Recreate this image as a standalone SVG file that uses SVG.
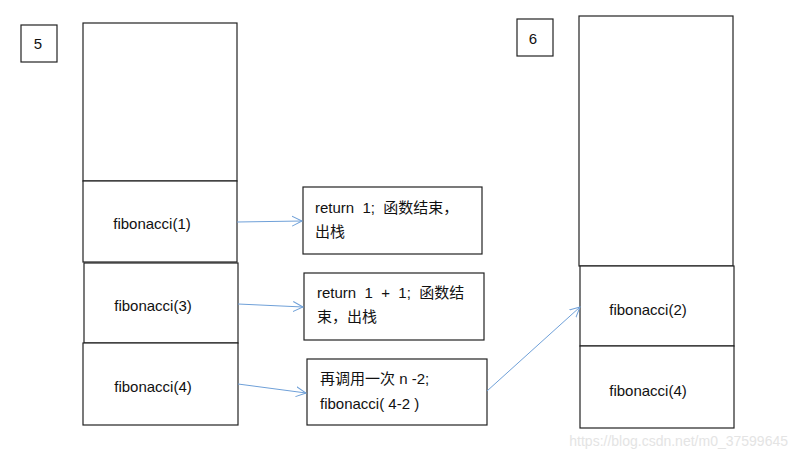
<svg xmlns="http://www.w3.org/2000/svg" width="800" height="459" viewBox="0 0 800 459">
<defs>
<marker id="arr" markerWidth="12" markerHeight="12" refX="10" refY="5" orient="auto" markerUnits="userSpaceOnUse" viewBox="0 0 12 10">
<polyline points="0,0 10,5 0,10" fill="none" stroke="#6fa0d8" stroke-width="1"/>
</marker>
</defs>
<style>
.b{fill:#fff;stroke:#222;stroke-width:1.2}
.t{font-family:"Liberation Sans","Noto Sans CJK SC",sans-serif;font-size:15px;fill:#111;white-space:pre}
.c{stroke:#6fa0d8;stroke-width:1;fill:none;marker-end:url(#arr)}
</style>
<rect width="800" height="459" fill="#fff"/>
<g id="label5"><rect class="b" x="21" y="25" width="36" height="37"/><text class="t" x="38" y="49" text-anchor="middle" font-size="15">5</text></g>
<g id="stack5-empty"><rect class="b" x="83" y="23" width="154" height="158"/></g>
<g id="fib1"><rect class="b" x="83" y="181" width="154" height="81"/><text class="t" x="152" y="229" text-anchor="middle">fibonacci(1)</text></g>
<g id="fib3"><rect class="b" x="84" y="263" width="154" height="80"/><text class="t" x="153" y="311" text-anchor="middle">fibonacci(3)</text></g>
<g id="fib4a"><rect class="b" x="83" y="343" width="155" height="82"/><text class="t" x="153" y="392" text-anchor="middle">fibonacci(4)</text></g>
<g id="note1"><rect class="b" x="303" y="187" width="179" height="67"/><text class="t" x="315" y="213">return  1;  函数结束，</text><text class="t" x="315" y="237">出栈</text></g>
<g id="note2"><rect class="b" x="304" y="273" width="180" height="67"/><text class="t" x="317" y="298">return  1  +  1;  函数结</text><text class="t" x="317" y="322">束，出栈</text></g>
<g id="note3"><rect class="b" x="307" y="359" width="180" height="66"/><text class="t" x="320" y="384">再调用一次 n -2;</text><text class="t" x="320" y="409">fibonacci( 4-2 )</text></g>
<g id="label6"><rect class="b" x="517" y="19" width="36" height="37"/><text class="t" x="533" y="44" text-anchor="middle" font-size="15">6</text></g>
<g id="stack6-empty"><rect class="b" x="579" y="16" width="154" height="250"/></g>
<g id="fib2"><rect class="b" x="580" y="266" width="154" height="80"/><text class="t" x="648" y="315" text-anchor="middle">fibonacci(2)</text></g>
<g id="fib4b"><rect class="b" x="580" y="346" width="154" height="82"/><text class="t" x="648" y="396" text-anchor="middle">fibonacci(4)</text></g>
<g id="connectors">
<line class="c" x1="237" y1="222" x2="302" y2="221"/>
<line class="c" x1="238" y1="304" x2="303" y2="307"/>
<line class="c" x1="238" y1="384" x2="306" y2="393"/>
<line class="c" x1="487" y1="391" x2="580" y2="307"/>
</g>
<text x="788" y="446" text-anchor="end" font-family="Liberation Sans, sans-serif" font-size="14" fill="#e4e4e4">https://blog.csdn.net/m0_37599645</text>
</svg>
